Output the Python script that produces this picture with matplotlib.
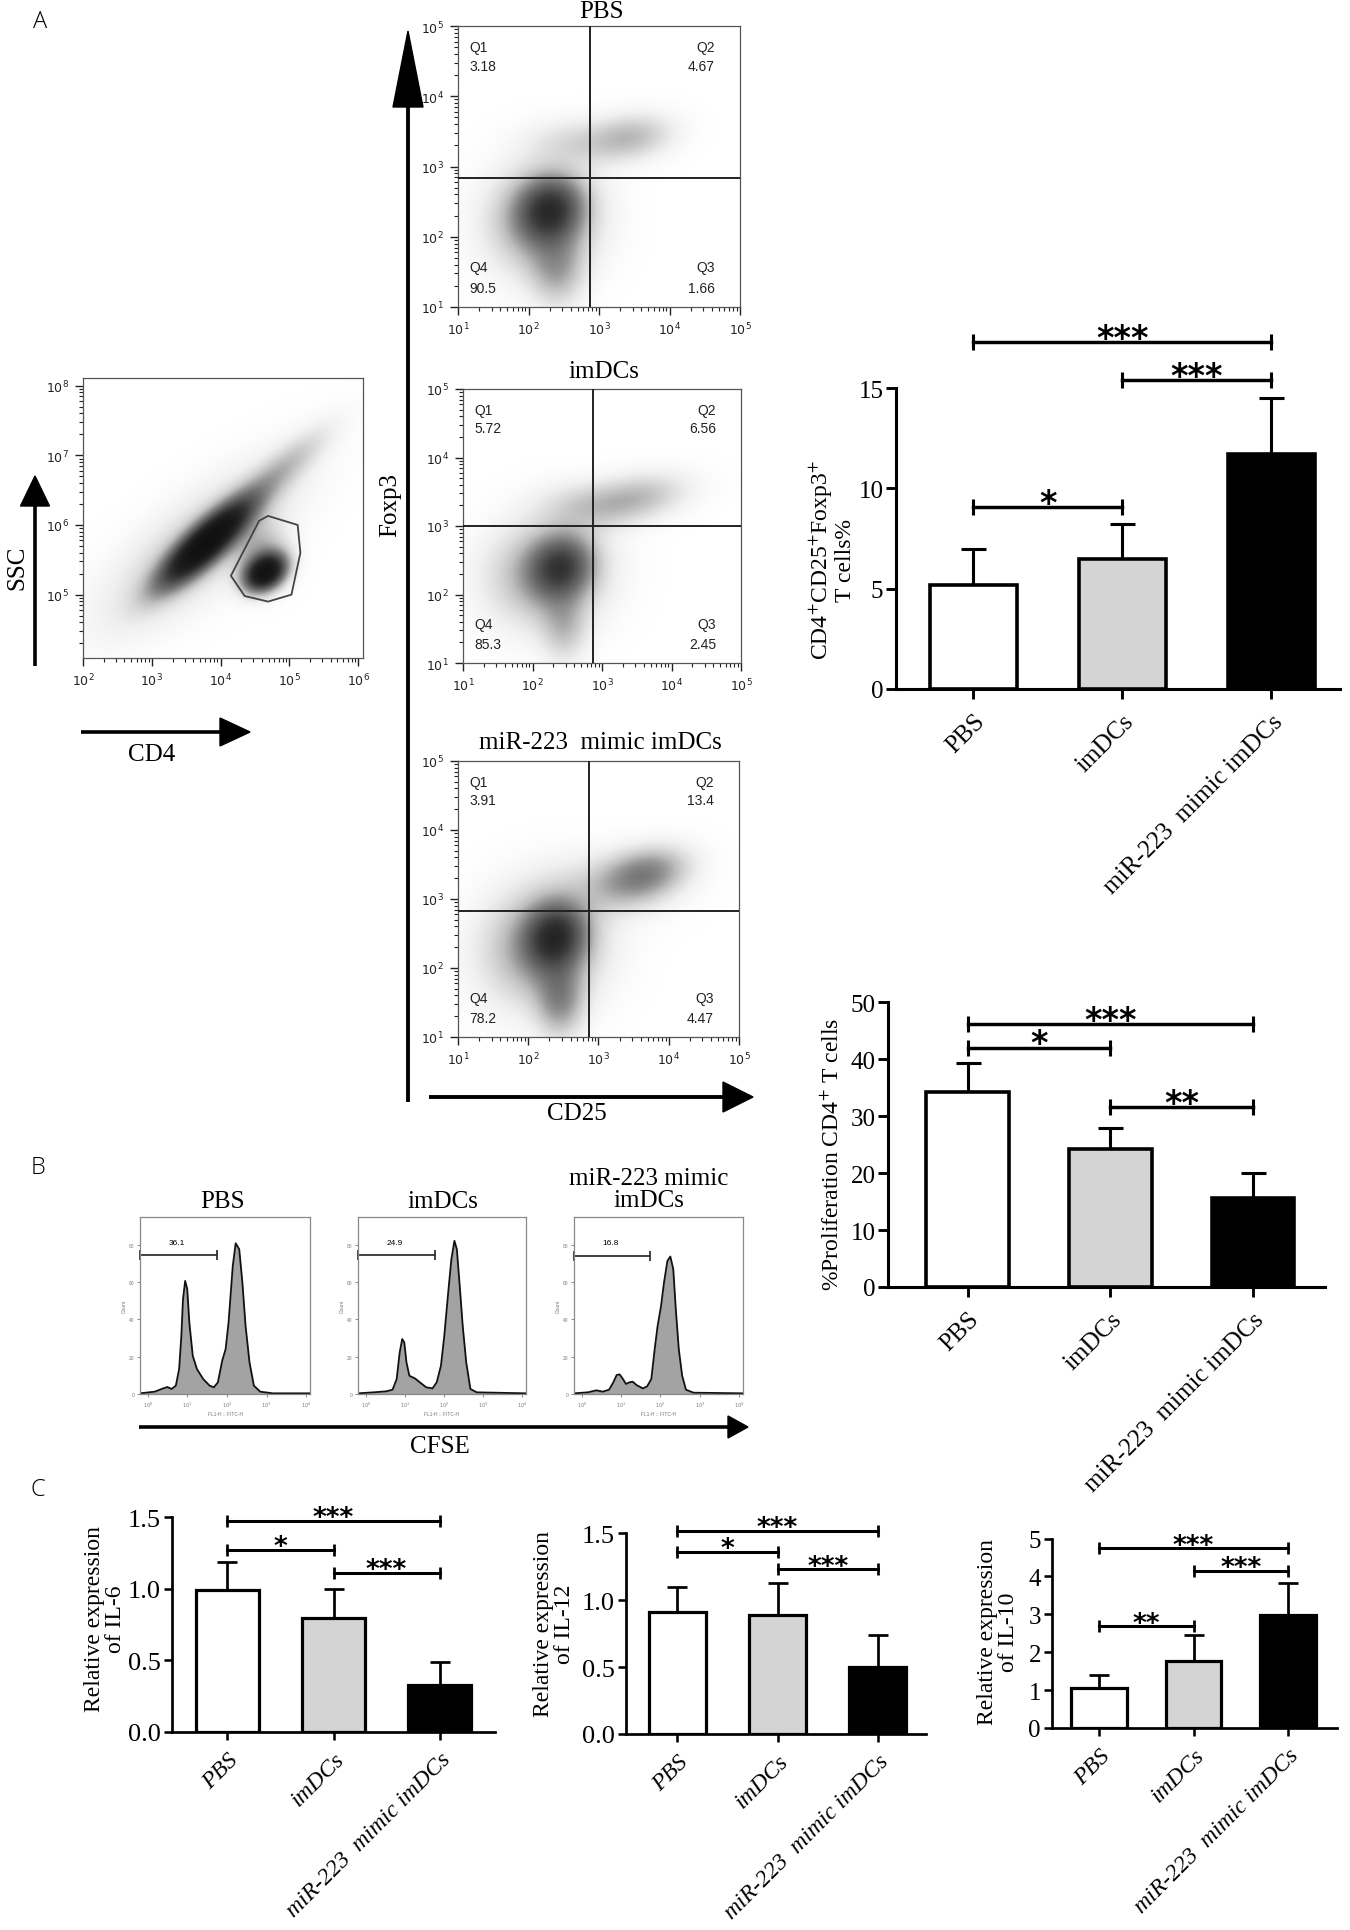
import numpy as np
import matplotlib
matplotlib.use('Agg')
import matplotlib.pyplot as plt
from matplotlib.patches import Polygon

plt.rcParams['font.family'] = ['Liberation Serif', 'DejaVu Serif']
plt.rcParams['mathtext.fontset'] = 'stix'

W, H = 1350, 1931

# ---------------- data ----------------
groups = ['PBS', 'imDCs', 'miR-223  mimic imDCs']
bar_colors = ['white', '#d4d4d4', 'black']

treg_mean = [5.2, 6.5, 11.7]
treg_err = [1.8, 1.75, 2.8]
treg_sig_pairs = [(0, 2), (1, 2), (0, 1)]
treg_sig_y = [17.3, 15.4, 9.05]
treg_sig_txt = ['***', '***', '*']

prolif_mean = [34.2, 24.3, 15.7]
prolif_err = [5.2, 3.7, 4.4]
prolif_sig_pairs = [(0, 2), (0, 1), (1, 2)]
prolif_sig_y = [46.2, 42.0, 31.6]
prolif_sig_txt = ['***', '*', '**']

il6_mean = [0.99, 0.80, 0.33]
il6_err = [0.20, 0.20, 0.16]
il6_sig_pairs = [(0, 2), (0, 1), (1, 2)]
il6_sig_y = [1.477, 1.274, 1.109]
il6_sig_txt = ['***', '*', '***']

il12_mean = [0.91, 0.89, 0.50]
il12_err = [0.19, 0.24, 0.24]
il12_sig_pairs = [(0, 2), (0, 1), (1, 2)]
il12_sig_y = [1.52, 1.36, 1.23]
il12_sig_txt = ['***', '*', '***']

il10_mean = [1.05, 1.76, 2.99]
il10_err = [0.36, 0.70, 0.85]
il10_sig_pairs = [(0, 2), (1, 2), (0, 1)]
il10_sig_y = [4.74, 4.14, 2.68]
il10_sig_txt = ['***', '***', '**']

# flow cytometry (log10 units)
flow_titles = ['PBS', 'imDCs', 'miR-223  mimic imDCs']
flow_q1 = ['3.18', '5.72', '3.91']
flow_q2 = ['4.67', '6.56', '13.4']
flow_q3 = ['1.66', '2.45', '4.47']
flow_q4 = ['90.5', '85.3', '78.2']
flow_gate_x = [2.87, 2.87, 2.87]
flow_gate_y = [2.84, 3.00, 2.83]
# populations: centre x, centre y, sd x, sd y, correlation, weight
pbs_pops = [[2.30, 2.38, 0.28, 0.28, 0.10, 0.55],
            [2.20, 2.25, 0.50, 0.50, 0.05, 0.25],
            [2.40, 1.55, 0.25, 0.35, 0.00, 0.18],
            [3.45, 3.42, 0.40, 0.22, 0.20, 0.16],
            [2.65, 3.35, 0.45, 0.22, 0.00, 0.08]]
imdc_pops = [[2.40, 2.40, 0.28, 0.28, 0.10, 0.50],
             [2.20, 2.30, 0.55, 0.50, 0.05, 0.22],
             [2.45, 1.55, 0.22, 0.35, 0.00, 0.14],
             [3.45, 3.40, 0.50, 0.24, 0.35, 0.17],
             [2.70, 3.30, 0.45, 0.24, 0.00, 0.08]]
mir_pops = [[2.38, 2.45, 0.27, 0.30, 0.10, 0.60],
            [2.20, 2.30, 0.55, 0.55, 0.05, 0.25],
            [2.45, 1.55, 0.22, 0.35, 0.00, 0.24],
            [3.65, 3.35, 0.40, 0.25, 0.30, 0.28],
            [3.20, 3.20, 0.60, 0.32, 0.00, 0.08]]
flow_pops = [pbs_pops, imdc_pops, mir_pops]

ssc_pops = [[3.80, 5.75, 0.40, 0.37, 0.84, 1.60],
            [3.70, 5.70, 0.90, 0.75, 0.75, 0.16],
            [4.90, 6.80, 0.45, 0.40, 0.85, 0.16],
            [4.65, 5.32, 0.18, 0.16, 0.30, 1.40],
            [4.60, 5.55, 0.25, 0.30, 0.00, 0.20]]
ssc_gate_x = [4.15, 4.56, 4.69, 5.12, 5.16, 5.03, 4.69, 4.35]
ssc_gate_y = [5.27, 6.06, 6.13, 6.00, 5.60, 5.00, 4.90, 4.98]

# CFSE histograms (log10 FITC, counts)
hist_titles = ['PBS', 'imDCs', 'miR-223 mimic\nimDCs']
pbs_hx = [-0.2, 0.173, 0.387, 0.494, 0.60, 0.707, 0.79, 0.846, 0.888, 0.942, 0.995, 1.048,
          1.134, 1.24, 1.40, 1.56, 1.67, 1.77, 1.88, 1.966, 2.04, 2.147, 2.22, 2.31, 2.39,
          2.47, 2.57, 2.68, 2.84, 3.16, 4.1]
pbs_hy = [0.36, 1.25, 3.0, 3.75, 2.7, 4.5, 13.4, 31.3, 50.9, 60.7, 56.3, 38.4, 20.5, 13.4,
          8.0, 4.5, 3.6, 6.25, 17.9, 24.1, 38.4, 68.8, 80.9, 77.7, 59.8, 36.6, 17.0, 4.5,
          1.25, 0.36, 0.36]
imdc_hx = [-0.2, 0.199, 0.522, 0.684, 0.79, 0.867, 0.932, 0.985, 1.04, 1.115, 1.255, 1.384,
           1.546, 1.707, 1.815, 1.923, 2.009, 2.117, 2.19, 2.268, 2.33, 2.41, 2.48, 2.57,
           2.677, 2.84, 4.1]
imdc_hy = [0.36, 0.9, 1.43, 2.3, 8.0, 22.3, 29.5, 27.7, 17.0, 9.8, 8.4, 6.25, 3.6, 3.0,
           6.25, 15.2, 31.3, 56.3, 72.3, 82.2, 77.7, 56.3, 36.6, 17.0, 2.7, 0.9, 0.36]
mir_hx = [-0.2, 0.155, 0.37, 0.531, 0.692, 0.80, 0.886, 0.961, 1.047, 1.122, 1.208, 1.294,
          1.391, 1.552, 1.66, 1.767, 1.853, 1.928, 2.015, 2.09, 2.176, 2.251, 2.326, 2.39,
          2.466, 2.552, 2.649, 2.842, 4.1]
mir_hy = [0.36, 0.9, 1.96, 1.25, 2.3, 6.25, 10.2, 10.5, 8.0, 5.4, 6.25, 6.6, 4.8, 3.0, 4.1,
          8.0, 24.1, 36.6, 47.3, 59.8, 71.4, 73.8, 67.0, 45.5, 24.1, 9.8, 2.3, 0.7, 0.36]
hist_x = [pbs_hx, imdc_hx, mir_hx]
hist_y = [pbs_hy, imdc_hy, mir_hy]
hist_gate_pct = ['36.1', '24.9', '16.8']
hist_gate_hi = [1.75, 1.76, 1.735]
hist_gate_level = [74.5, 74.5, 74.1]

# ---------------- figure ----------------
fig = plt.figure(figsize=(W / 100, H / 100), dpi=100)
fig.patch.set_facecolor('white')


def add_ax(x0, y0, x1, y1):
    return fig.add_axes([x0 / W, 1 - y1 / H, (x1 - x0) / W, (y1 - y0) / H])


ov = fig.add_axes([0, 0, 1, 1], zorder=-5)
ov.set_xlim(0, W)
ov.set_ylim(H, 0)
ov.axis('off')


def v_arrow(x, y_tail, y_tip, hl, hw, lw=2.6):
    ov.plot([x, x], [y_tail, y_tip + hl * 0.9], color='black', lw=lw, solid_capstyle='butt')
    ov.add_patch(Polygon([[x - hw / 2, y_tip + hl], [x + hw / 2, y_tip + hl], [x, y_tip]],
                         closed=True, color='black'))


def h_arrow(y, x_tail, x_tip, hl, hw, lw=2.6):
    ov.plot([x_tail, x_tip - hl * 0.9], [y, y], color='black', lw=lw, solid_capstyle='butt')
    ov.add_patch(Polygon([[x_tip - hl, y - hw / 2], [x_tip - hl, y + hw / 2], [x_tip, y]],
                         closed=True, color='black'))


def fpx(x, y):
    return x / W, 1 - y / H


# panel letters
for letter, (lx, ly) in zip(['A', 'B', 'C'], [(40, 22), (38, 1168), (38, 1490)]):
    fig.text(*fpx(lx, ly), letter, fontsize=17, family=['Open Sans', 'DejaVu Sans'],
             ha='center', va='center', fontweight='light')


def density(ax, pops, xlim, ylim, k=3.0):
    gx = np.linspace(xlim[0], xlim[1], 500)
    gy = np.linspace(ylim[0], ylim[1], 500)
    X, Y = np.meshgrid(gx, gy)
    D = np.zeros_like(X)
    for cx, cy, sx, sy, rho, w in pops:
        dx = (X - cx) / sx
        dy = (Y - cy) / sy
        q = (dx ** 2 - 2 * rho * dx * dy + dy ** 2) / (1 - rho ** 2)
        D += w * np.exp(-0.5 * q)
    img = 1 - np.exp(-k * D)
    ax.imshow(img, extent=[xlim[0], xlim[1], ylim[0], ylim[1]], origin='lower',
              cmap='Greys', vmin=0, vmax=1.05, aspect='auto', interpolation='bilinear', zorder=0)


def log_ticks(ax, xr, yr, fs=9):
    xmaj = list(range(int(np.ceil(xr[0])), int(np.floor(xr[1] + 1e-9)) + 1))
    ymaj = list(range(int(np.ceil(yr[0])), int(np.floor(yr[1] + 1e-9)) + 1))
    ax.set_xticks(xmaj)
    ax.set_yticks(ymaj)
    ax.set_xticklabels([r'$10^{%d}$' % v for v in xmaj], fontsize=fs, math_fontfamily='dejavusans')
    ax.set_yticklabels([r'$10^{%d}$' % v for v in ymaj], fontsize=fs, math_fontfamily='dejavusans')
    xmin = [n + np.log10(m) for n in range(int(np.floor(xr[0])), int(np.ceil(xr[1])))
            for m in range(2, 10)]
    ymin = [n + np.log10(m) for n in range(int(np.floor(yr[0])), int(np.ceil(yr[1])))
            for m in range(2, 10)]
    ax.set_xticks([v for v in xmin if xr[0] <= v <= xr[1]], minor=True)
    ax.set_yticks([v for v in ymin if yr[0] <= v <= yr[1]], minor=True)
    ax.tick_params(which='major', length=6, width=1, direction='out', pad=4, colors='#222')
    ax.tick_params(which='minor', length=3, width=0.8, direction='out', colors='#222')
    for s in ax.spines.values():
        s.set_color('#555')
        s.set_linewidth(0.9)


# ---- SSC / CD4 ----
ax = add_ax(83, 379, 363, 659)
sx_lim, sy_lim = (2.0, 6.07), (4.09, 8.11)
ax.set_xlim(*sx_lim)
ax.set_ylim(*sy_lim)
density(ax, ssc_pops, sx_lim, sy_lim, k=2.6)
ax.add_patch(Polygon(np.column_stack([ssc_gate_x, ssc_gate_y]), closed=True, fill=False,
                     edgecolor='#444', lw=1.3, zorder=3))
log_ticks(ax, sx_lim, sy_lim, fs=9)
v_arrow(35, 667, 477, 30, 29)
h_arrow(733, 81, 250, 30, 28)
fig.text(*fpx(17, 568), 'SSC', rotation=90, fontsize=18, ha='center', va='center')
fig.text(*fpx(152, 755), 'CD4', fontsize=18, ha='center', va='center')

# ---- Foxp3 / CD25 panels ----
flow_rects = [(458, 27, 740, 308), (463, 390, 741, 664), (458, 762, 739, 1038)]
title_y = [12, 372, 743]
for i in range(3):
    ax = add_ax(*flow_rects[i])
    lim = (1.0, 5.0)
    ax.set_xlim(*lim)
    ax.set_ylim(*lim)
    ax.set_facecolor('#fbfbfb')
    density(ax, flow_pops[i], lim, lim, k=3.0)
    ax.axvline(flow_gate_x[i], color='#222', lw=1.4, zorder=3)
    ax.axhline(flow_gate_y[i], color='#222', lw=1.4, zorder=3)
    log_ticks(ax, lim, lim, fs=9)
    kw = dict(transform=ax.transAxes, fontsize=10, family=['Liberation Sans', 'DejaVu Sans'],
              color='#222', zorder=4)
    ax.text(0.04, 0.925, 'Q1', ha='left', va='center', **kw)
    ax.text(0.04, 0.857, flow_q1[i], ha='left', va='center', **kw)
    ax.text(0.91, 0.925, 'Q2', ha='right', va='center', **kw)
    ax.text(0.91, 0.857, flow_q2[i], ha='right', va='center', **kw)
    ax.text(0.04, 0.142, 'Q4', ha='left', va='center', **kw)
    ax.text(0.04, 0.068, flow_q4[i], ha='left', va='center', **kw)
    ax.text(0.91, 0.142, 'Q3', ha='right', va='center', **kw)
    ax.text(0.91, 0.068, flow_q3[i], ha='right', va='center', **kw)
    cx = (flow_rects[i][0] + flow_rects[i][2]) / 2
    fig.text(*fpx(cx + 2, title_y[i]), flow_titles[i], fontsize=18, ha='center', va='center')

v_arrow(408, 1103, 32, 76, 30, lw=2.8)
h_arrow(1098, 429, 753, 30, 30, lw=2.8)
fig.text(*fpx(390, 505), 'Foxp3', rotation=90, fontsize=18, ha='center', va='center')
fig.text(*fpx(577, 1114), 'CD25', fontsize=18, ha='center', va='center')

# ---- CFSE histograms ----
hist_rects = [(140, 1218, 310, 1395), (358, 1218, 526, 1395), (574, 1218, 743, 1395)]
hist_title_xy = [(222, 1202), (443, 1202), (649, 1190)]
for i in range(3):
    ax = add_ax(*hist_rects[i])
    ax.set_xlim(-0.2, 4.1)
    ax.set_ylim(0, 95)
    ax.fill_between(hist_x[i], hist_y[i], 0, color='#a3a3a3', lw=0)
    ax.plot(hist_x[i], hist_y[i], color='#111', lw=1.3)
    ax.plot([-0.2, hist_gate_hi[i]], [hist_gate_level[i]] * 2, color='#333', lw=1.3,
            marker='|', markersize=7, mew=1.3, clip_on=False)
    ax.text((hist_gate_hi[i] - 0.2) / 2 - 0.05, hist_gate_level[i] + 7, hist_gate_pct[i],
            fontsize=6, family=['Liberation Sans', 'DejaVu Sans'], ha='center', va='center')
    ax.set_xticks([0, 1, 2, 3, 4])
    ax.set_xticklabels([r'$10^{%d}$' % v for v in range(5)], fontsize=3.5,
                       math_fontfamily='dejavusans', color='#666')
    ax.set_yticks([0, 20, 40, 60, 80])
    ax.set_yticklabels(['0', '20', '40', '60', '80'], fontsize=3.5, color='#666',
                       family=['Liberation Sans', 'DejaVu Sans'])
    ax.tick_params(length=2.5, width=0.6, colors='#777', pad=1.5)
    ax.set_xlabel('FL1-H :: FITC-H', fontsize=3.5, color='#777', labelpad=1.5,
                  family=['Liberation Sans', 'DejaVu Sans'])
    ax.set_ylabel('Count', fontsize=3.5, color='#777', labelpad=1.5,
                  family=['Liberation Sans', 'DejaVu Sans'])
    for s in ax.spines.values():
        s.set_color('#888')
        s.set_linewidth(0.9)
    fig.text(*fpx(*hist_title_xy[i]), hist_titles[i], fontsize=18, ha='center', va='center',
             linespacing=0.95)
h_arrow(1428, 139, 748, 20, 22, lw=2.6)
fig.text(*fpx(440, 1447), 'CFSE', fontsize=18, ha='center', va='center')


# ---- bar charts ----
def bar_chart(rect, means, errs, ylim, spine_top, yticks, ytl, xlim, width,
              pairs, sig_y, sig_txt, tick_fs, xl_fs, star_fs, italic, bar_lw, cap,
              tick_len, star_off, xl_pad):
    ax = add_ax(*rect)
    ax.set_facecolor('none')
    x = np.arange(len(means))
    ax.bar(x, means, width=width, color=bar_colors, edgecolor='black', linewidth=bar_lw, zorder=3)
    ax.errorbar(x, means, yerr=[np.zeros(len(errs)), errs], fmt='none', ecolor='black',
                elinewidth=bar_lw * 0.85, capsize=cap, capthick=bar_lw * 0.85, zorder=2)
    for (a, b), yv, t in zip(pairs, sig_y, sig_txt):
        ax.plot([a, b], [yv, yv], color='black', lw=bar_lw * 0.95, marker='|',
                markersize=cap * 1.3, mew=bar_lw * 0.85, clip_on=False, zorder=4)
        ax.annotate(t, xy=((a + b) / 2, yv), xytext=(0, star_off), textcoords='offset points',
                    ha='center', va='baseline', fontsize=star_fs, fontweight='bold',
                    family=['DejaVu Sans'], annotation_clip=False)
    ax.set_xlim(*xlim)
    ax.set_ylim(*ylim)
    ax.spines['top'].set_visible(False)
    ax.spines['right'].set_visible(False)
    ax.spines['left'].set_bounds(0, spine_top)
    for s in ['left', 'bottom']:
        ax.spines[s].set_linewidth(bar_lw * 0.85)
    ax.set_yticks(yticks)
    ax.set_yticklabels(ytl, fontsize=tick_fs)
    ax.set_xticks(x)
    ax.set_xticklabels(groups, rotation=45, ha='right', rotation_mode='anchor',
                       fontsize=xl_fs, style='italic' if italic else 'normal')
    ax.tick_params(axis='y', length=tick_len, width=bar_lw * 0.8, pad=2)
    ax.tick_params(axis='x', length=tick_len, width=bar_lw * 0.8, pad=xl_pad)
    return ax


bar_chart((896, 329, 1340, 690), treg_mean, treg_err, (0, 18), 15, [0, 5, 10, 15],
          ['0', '5', '10', '15'], (-0.52, 2.46), 0.59, treg_sig_pairs, treg_sig_y, treg_sig_txt,
          18, 18, 24, False, 2.6, 9, 7, -4, 8)
fig.text(*fpx(832, 560), 'CD4$^{+}$CD25$^{+}$Foxp3$^{+}$\nT cells%', rotation=90, fontsize=17,
         ha='center', va='center', multialignment='center', linespacing=1.0)

bar_chart((888, 992, 1325, 1288), prolif_mean, prolif_err, (0, 52), 50, [0, 10, 20, 30, 40, 50],
          ['0', '10', '20', '30', '40', '50'], (-0.56, 2.505), 0.58, prolif_sig_pairs,
          prolif_sig_y, prolif_sig_txt, 18, 18, 24, False, 2.6, 9, 7, -4, 8)
fig.text(*fpx(833, 1154), '%Proliferation CD4$^{+}$ T cells', rotation=90, fontsize=17,
         ha='center', va='center')

bar_chart((172, 1504, 495, 1733), il6_mean, il6_err, (0, 1.6), 1.5, [0, 0.5, 1.0, 1.5],
          ['0.0', '0.5', '1.0', '1.5'], (-0.52, 2.52), 0.59, il6_sig_pairs, il6_sig_y,
          il6_sig_txt, 19, 17, 19, True, 2.3, 7, 6, -3, 6)
fig.text(*fpx(105, 1619), 'Relative expression\nof IL-6', rotation=90, fontsize=17,
         ha='center', va='center', linespacing=0.95)

bar_chart((626, 1521, 926, 1735), il12_mean, il12_err, (0, 1.6), 1.5, [0, 0.5, 1.0, 1.5],
          ['0.0', '0.5', '1.0', '1.5'], (-0.51, 2.48), 0.57, il12_sig_pairs, il12_sig_y,
          il12_sig_txt, 19, 17, 19, True, 2.3, 7, 6, -3, 6)
fig.text(*fpx(554, 1624), 'Relative expression\nof IL-12', rotation=90, fontsize=17,
         ha='center', va='center', linespacing=0.95)

bar_chart((1052, 1532, 1337, 1729), il10_mean, il10_err, (0, 5.2), 5, [0, 1, 2, 3, 4, 5],
          ['0', '1', '2', '3', '4', '5'], (-0.5, 2.52), 0.59, il10_sig_pairs, il10_sig_y,
          il10_sig_txt, 18, 17, 19, True, 2.3, 7, 6, -3, 6)
fig.text(*fpx(998, 1632), 'Relative expression\nof IL-10', rotation=90, fontsize=17,
         ha='center', va='center', linespacing=0.95)

fig.savefig('out.png', dpi=100, facecolor='white')
